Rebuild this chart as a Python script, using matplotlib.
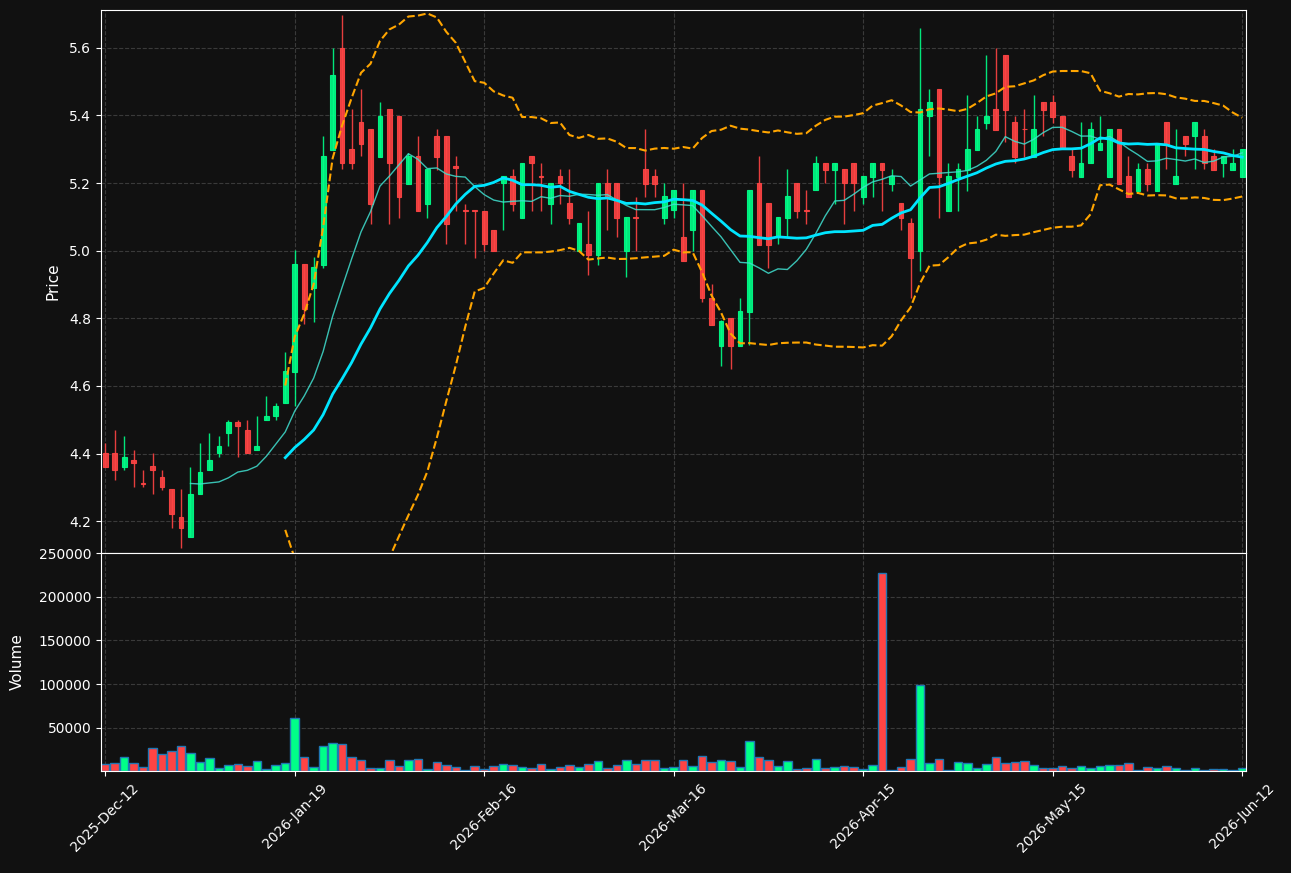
import numpy as np
import pandas as pd
import matplotlib
matplotlib.use("Agg")
import matplotlib.pyplot as plt
from matplotlib.ticker import FixedLocator, FormatStrFormatter

# OHLCV data (one row per trading session)
opens = [4.402, 4.402, 4.360, 4.382, 4.312, 4.362, 4.331, 4.294, 4.213, 4.152,
         4.280, 4.350, 4.401, 4.460, 4.492, 4.471, 4.411, 4.499, 4.511, 4.550,
         4.641, 4.960, 4.891, 4.958, 5.298, 5.600, 5.301, 5.381, 5.361, 5.278,
         5.420, 5.399, 5.198, 5.280, 5.139, 5.340, 5.340, 5.252, 5.121, 5.120,
         5.118, 5.060, 5.199, 5.221, 5.097, 5.280, 5.221, 5.139, 5.221, 5.141,
         4.999, 5.020, 4.988, 5.200, 5.200, 4.999, 5.099, 5.241, 5.221, 5.097,
         5.119, 5.041, 5.060, 5.179, 4.861, 4.718, 4.800, 4.718, 4.819, 5.200,
         5.141, 5.041, 5.097, 5.200, 5.120, 5.179, 5.260, 5.239, 5.241, 5.260,
         5.159, 5.219, 5.260, 5.198, 5.141, 5.082, 4.999, 5.397, 5.479, 5.118,
         5.219, 5.239, 5.298, 5.379, 5.420, 5.580, 5.381, 5.361, 5.278, 5.440,
         5.440, 5.399, 5.280, 5.219, 5.258, 5.298, 5.219, 5.361, 5.221, 5.178,
         5.241, 5.178, 5.381, 5.198, 5.340, 5.338, 5.340, 5.280, 5.258, 5.239,
         5.219]
highs = [4.432, 4.470, 4.452, 4.411, 4.351, 4.402, 4.351, 4.294, 4.294, 4.361,
         4.432, 4.461, 4.452, 4.500, 4.500, 4.500, 4.511, 4.571, 4.550, 4.701,
         5.001, 4.960, 4.980, 5.339, 5.600, 5.698, 5.418, 5.478, 5.361, 5.439,
         5.420, 5.399, 5.288, 5.339, 5.242, 5.360, 5.340, 5.280, 5.139, 5.120,
         5.118, 5.060, 5.221, 5.241, 5.260, 5.280, 5.260, 5.200, 5.241, 5.241,
         5.082, 5.118, 5.200, 5.241, 5.200, 5.099, 5.159, 5.360, 5.241, 5.199,
         5.179, 5.199, 5.179, 5.179, 4.901, 4.796, 4.800, 4.861, 5.179, 5.280,
         5.141, 5.099, 5.241, 5.200, 5.179, 5.280, 5.260, 5.260, 5.241, 5.260,
         5.221, 5.260, 5.260, 5.241, 5.141, 5.097, 5.659, 5.478, 5.479, 5.260,
         5.260, 5.460, 5.399, 5.579, 5.600, 5.580, 5.399, 5.418, 5.460, 5.440,
         5.460, 5.399, 5.301, 5.381, 5.381, 5.399, 5.361, 5.361, 5.280, 5.260,
         5.260, 5.320, 5.381, 5.361, 5.340, 5.381, 5.361, 5.301, 5.280, 5.301,
         5.301]
lows = [4.360, 4.322, 4.350, 4.300, 4.300, 4.280, 4.292, 4.181, 4.120, 4.152,
        4.280, 4.350, 4.391, 4.421, 4.391, 4.401, 4.411, 4.499, 4.500, 4.550,
        4.541, 4.783, 4.789, 4.949, 5.298, 5.241, 5.241, 5.280, 5.080, 5.278,
        5.080, 5.098, 5.198, 5.118, 5.098, 5.238, 5.019, 5.118, 5.019, 4.979,
        4.999, 4.999, 5.060, 5.118, 5.097, 5.118, 5.118, 5.080, 5.139, 5.080,
        4.999, 4.928, 4.959, 5.060, 5.040, 4.921, 4.999, 5.159, 5.159, 5.080,
        5.097, 4.969, 4.999, 4.849, 4.780, 4.659, 4.651, 4.718, 4.720, 5.018,
        4.950, 5.019, 5.041, 5.097, 5.080, 5.179, 5.199, 5.139, 5.080, 5.118,
        5.139, 5.159, 5.118, 5.178, 5.060, 4.861, 4.941, 5.280, 5.098, 5.118,
        5.118, 5.178, 5.298, 5.361, 5.358, 5.322, 5.258, 5.278, 5.278, 5.339,
        5.379, 5.305, 5.219, 5.219, 5.258, 5.298, 5.219, 5.198, 5.159, 5.178,
        5.178, 5.178, 5.241, 5.198, 5.280, 5.241, 5.241, 5.239, 5.219, 5.239,
        5.219]
closes = [4.360, 4.350, 4.391, 4.371, 4.310, 4.350, 4.300, 4.220, 4.181, 4.281,
          4.344, 4.382, 4.421, 4.492, 4.481, 4.401, 4.421, 4.512, 4.541, 4.643,
          4.960, 4.828, 4.952, 5.280, 5.520, 5.258, 5.258, 5.317, 5.139, 5.399,
          5.258, 5.159, 5.280, 5.118, 5.242, 5.278, 5.080, 5.246, 5.118, 5.118,
          5.019, 4.999, 5.221, 5.139, 5.260, 5.258, 5.219, 5.200, 5.199, 5.096,
          5.082, 4.988, 5.200, 5.158, 5.097, 5.099, 5.097, 5.198, 5.198, 5.161,
          5.179, 4.969, 5.179, 4.859, 4.780, 4.791, 4.718, 4.821, 5.179, 5.018,
          5.018, 5.099, 5.161, 5.118, 5.118, 5.260, 5.239, 5.260, 5.199, 5.199,
          5.221, 5.260, 5.239, 5.221, 5.096, 4.979, 5.418, 5.439, 5.219, 5.221,
          5.241, 5.301, 5.361, 5.399, 5.358, 5.417, 5.278, 5.359, 5.361, 5.417,
          5.396, 5.305, 5.239, 5.260, 5.361, 5.320, 5.361, 5.198, 5.159, 5.241,
          5.198, 5.320, 5.317, 5.221, 5.317, 5.381, 5.258, 5.239, 5.280, 5.260,
          5.301]
volumes = [8450, 9600, 16100, 9600, 4600, 26500, 20000, 23400, 28800, 20700,
           10400, 15000, 4200, 6900, 8100, 5800, 11500, 3100, 6900, 9200,
           61100, 16100, 5400, 28800, 32300, 31100, 16100, 12700, 4200, 4200,
           12700, 5800, 12700, 13800, 2300, 10400, 6900, 4600, 1200, 5800,
           2300, 5800, 8500, 6900, 4600, 4200, 8500, 2300, 4600, 6900,
           4600, 8500, 11500, 4200, 6900, 12700, 8100, 12700, 12700, 3500,
           4600, 12700, 5800, 17300, 10400, 12700, 11500, 4600, 34600, 16100,
           12700, 5800, 11500, 2300, 3500, 13800, 3500, 4600, 5800, 4600,
           2300, 6900, 227500, 1200, 4600, 13800, 99100, 9200, 13800, 1200,
           10400, 9200, 3500, 8100, 16100, 9200, 10400, 11500, 6900, 3500,
           3500, 5800, 3500, 5800, 3500, 5800, 6900, 6900, 9200, 1200,
           4600, 3500, 5800, 3500, 1200, 3500, 1200, 2300, 2300, 1200,
           3500]

tick_pos = [0, 20, 40, 60, 80, 100, 120]
tick_labels = ['2025-Dec-12', '2026-Jan-19', '2026-Feb-16', '2026-Mar-16',
               '2026-Apr-15', '2026-May-15', '2026-Jun-12']

df = pd.DataFrame({'Open': opens, 'High': highs, 'Low': lows,
                   'Close': closes, 'Volume': volumes})
x = np.arange(len(df))

# indicators
ma10 = df['Close'].rolling(10).mean()
ma20 = df['Close'].rolling(20).mean()
std20 = df['Close'].rolling(20).std(ddof=0)
bb_up = ma20 + 2 * std20
bb_dn = ma20 - 2 * std20

bg = '#111111'
up_c, dn_c = '#00ff88', '#ff4444'
up = df['Close'] >= df['Open']
colors = np.where(up, up_c, dn_c)

fig = plt.figure(figsize=(12.91, 8.73), dpi=100, facecolor=bg)
ax = fig.add_axes([0.0782, 0.3666, 0.8869, 0.622])
axv = fig.add_axes([0.0782, 0.1168, 0.8869, 0.2498], sharex=ax)

for a in (ax, axv):
    a.set_facecolor(bg)
    for s in a.spines.values():
        s.set_color('white')
    a.tick_params(colors='white', labelsize=10)
    a.grid(True, color='#3a3a3a', linestyle='--', linewidth=0.8)
    a.set_axisbelow(True)

# candles
ax.vlines(x, df['Low'], df['High'], colors=colors, linewidth=1, alpha=0.9)
body_lo = np.minimum(df['Open'], df['Close'])
body_h = (df['Close'] - df['Open']).abs()
ax.bar(x, body_h, bottom=body_lo, width=0.5, color=colors, edgecolor=colors,
       linewidth=0.8, alpha=0.9)

ax.plot(x, ma10, color='#40e0d0', linewidth=1, alpha=0.85)
ax.plot(x, ma20, color='#00e5ff', linewidth=2)
ax.plot(x, bb_up, color='orange', linestyle='--', linewidth=1.5)
ax.plot(x, bb_dn, color='orange', linestyle='--', linewidth=1.5)

lo, hi = df['Low'].min(), df['High'].max()
pad = (hi - lo) * 0.009
ax.set_ylim(lo - pad, hi + pad)
ax.yaxis.set_major_formatter(FormatStrFormatter('%.1f'))
ax.set_ylabel('Price', color='white', fontsize=11, labelpad=6)
ax.tick_params(axis='x', labelbottom=False)

# volume
axv.bar(x, df['Volume'], width=0.9, color=colors, edgecolor='#1f77b4', linewidth=1)
axv.set_ylim(0.3 * df['Volume'].min(), 1.1 * df['Volume'].max())
axv.yaxis.set_major_locator(FixedLocator([50000, 100000, 150000, 200000, 250000]))
axv.yaxis.set_major_formatter(FormatStrFormatter('%d'))
axv.set_ylabel('Volume', color='white', fontsize=11, labelpad=10)

axv.set_xlim(-0.45, len(df) - 0.6)
axv.set_xticks(tick_pos)
axv.set_xticklabels(tick_labels, rotation=45)

fig.savefig('out.png', dpi=100, facecolor=bg)
